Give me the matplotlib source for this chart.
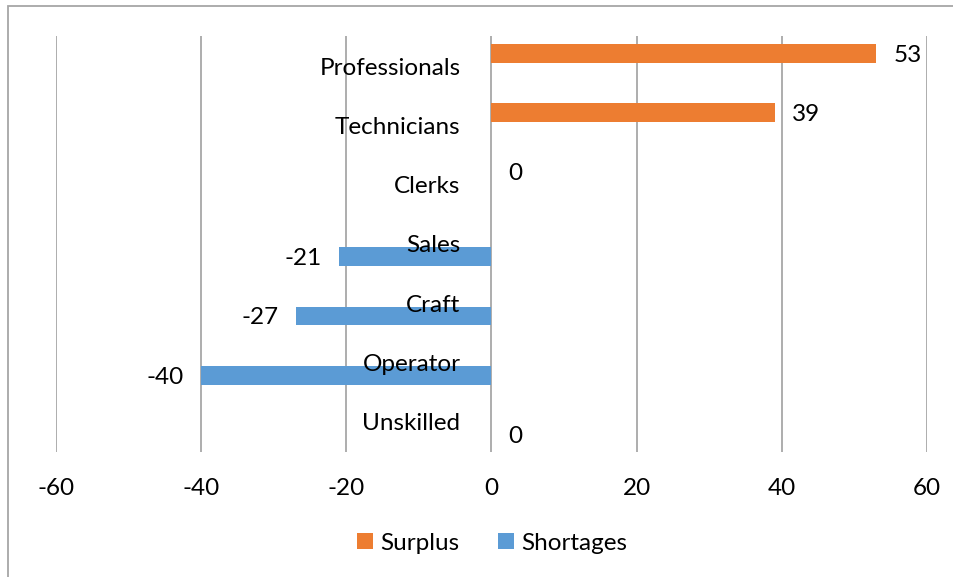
import matplotlib
matplotlib.use("Agg")
import matplotlib.pyplot as plt
import numpy as np

categories = ["Professionals", "Technicians", "Clerks", "Sales", "Craft", "Operator", "Unskilled"]
surplus = [53, 39, 0, None, None, None, None]
shortages = [None, None, None, -21, -27, -40, 0]

orange = "#ED7D31"
blue = "#5B9BD5"
fs = 17.5
plt.rcParams["font.family"] = ["Lato", "DejaVu Sans"]
plt.rcParams["axes.unicode_minus"] = False

W, H = 954, 577
fig = plt.figure(figsize=(W / 100, H / 100), dpi=100)
ax = fig.add_axes([56 / W, 1 - 451.5 / H, (927 - 56) / W, (451.5 - 36.4) / H])

# outer chart border (runs off the right/bottom edges like the original)
fig.add_artist(plt.Rectangle((8 / W, -0.1), 1.2, 1 - 6 / H + 0.1, transform=fig.transFigure,
                             fill=False, edgecolor="#A6A6A6", linewidth=1.3))

ypos = np.arange(len(categories))
off = 0.215
bh = 0.315

def bars(vals, shift, color, label):
    ys = [y + shift for y, v in zip(ypos, vals) if v is not None]
    xs = [v for v in vals if v is not None]
    ax.barh(ys, xs, height=bh, color=color, label=label, zorder=3)
    for y, v in zip(ys, xs):
        if v < 0:
            ax.annotate(str(v), xy=(v, y), xytext=(-17, -2), textcoords="offset pixels",
                        ha="right", va="center", fontsize=fs)
        else:
            ax.annotate(str(v), xy=(v, y), xytext=(17, -2), textcoords="offset pixels",
                        ha="left", va="center", fontsize=fs)

bars(surplus, -off, orange, "Surplus")
bars(shortages, off, blue, "Shortages")

for y, name in zip(ypos, categories):
    ax.annotate(name, xy=(0, y), xytext=(-31, -2), textcoords="offset pixels",
                ha="right", va="center", fontsize=fs, zorder=4)

ax.set_xlim(-60, 60)
ax.set_ylim(len(categories) - 0.5, -0.5)
ax.set_xticks(np.arange(-60, 61, 20))
ax.set_yticks([])
ax.tick_params(axis="x", length=0, pad=19, labelsize=fs)
ax.grid(axis="x", color="#A0A0A0", linewidth=1.2, zorder=0)
for s in ax.spines.values():
    s.set_visible(False)

fig.legend(loc="center", bbox_to_anchor=(492 / W, 1 - 543 / H), ncol=2, frameon=False,
           fontsize=fs, handlelength=0.65, handleheight=0.65, handletextpad=0.3, columnspacing=1.6)

fig.savefig("out.png", dpi=100)
